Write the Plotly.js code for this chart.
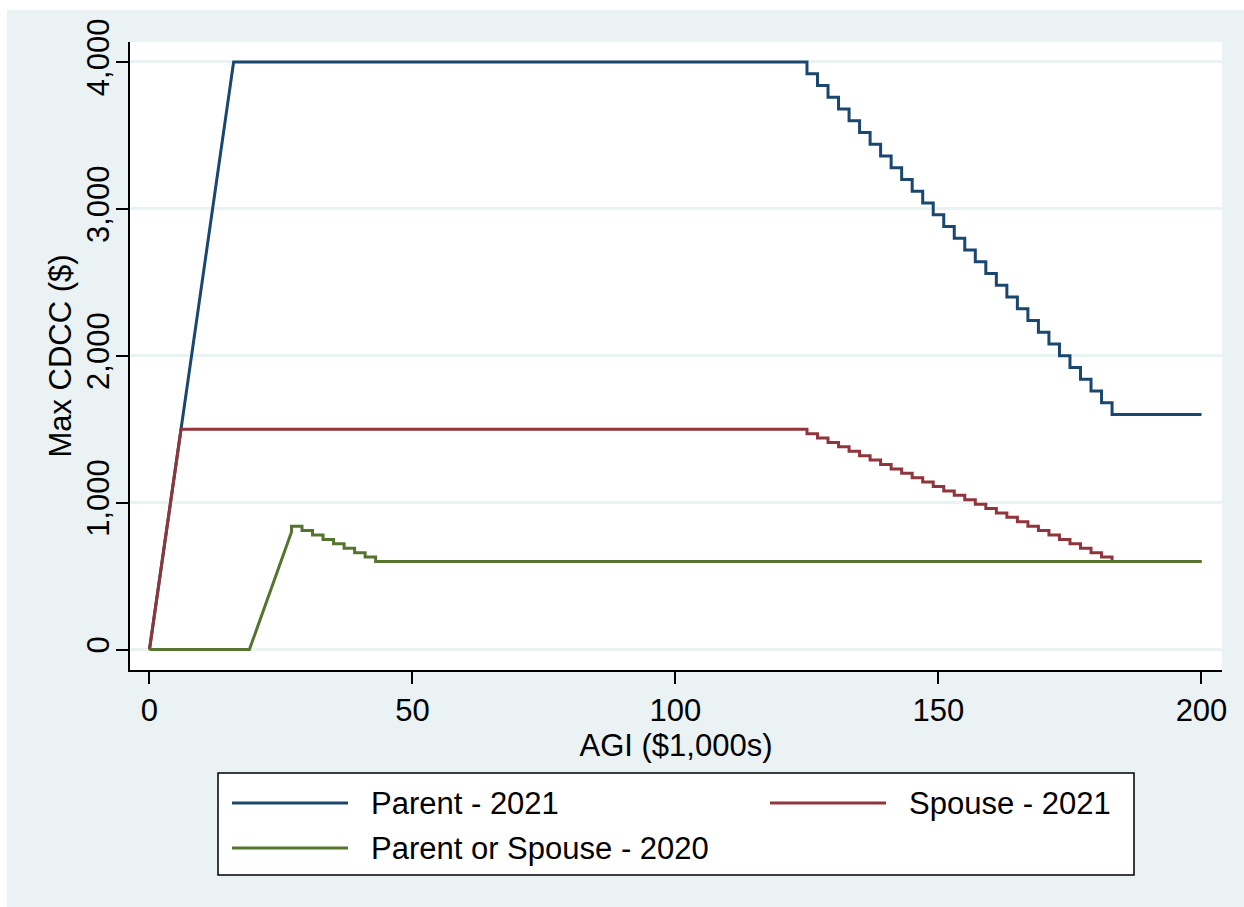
<!DOCTYPE html>
<html>
<head>
<meta charset="utf-8">
<script src="https://cdn.plot.ly/plotly-3.0.1.min.js"></script>
<style>
  html, body { margin: 0; padding: 0; background: #ffffff; }
  #chart { position: absolute; left: 7px; top: 10px; width: 1237px; height: 897px; }
</style>
</head>
<body>
<div id="chart"></div>
<script>
// ---- Data (AGI in $1,000s, credit in $) ----
const seriesNames = ["Parent - 2021", "Spouse - 2021", "Parent or Spouse - 2020"];

const parentAGI = [0, 16, 125, 125, 127, 127, 129, 129, 131, 131, 133, 133, 135, 135, 137, 137, 139, 139,
  141, 141, 143, 143, 145, 145, 147, 147, 149, 149, 151, 151, 153, 153, 155, 155, 157, 157, 159, 159,
  161, 161, 163, 163, 165, 165, 167, 167, 169, 169, 171, 171, 173, 173, 175, 175, 177, 177, 179, 179,
  181, 181, 183, 183, 200];
const parentCredit = [0, 4000, 4000, 3920, 3920, 3840, 3840, 3760, 3760, 3680, 3680, 3600, 3600, 3520,
  3520, 3440, 3440, 3360, 3360, 3280, 3280, 3200, 3200, 3120, 3120, 3040, 3040, 2960, 2960, 2880,
  2880, 2800, 2800, 2720, 2720, 2640, 2640, 2560, 2560, 2480, 2480, 2400, 2400, 2320, 2320, 2240,
  2240, 2160, 2160, 2080, 2080, 2000, 2000, 1920, 1920, 1840, 1840, 1760, 1760, 1680, 1680, 1600, 1600];

const spouseAGI = [0, 6, 125, 125, 127, 127, 129, 129, 131, 131, 133, 133, 135, 135, 137, 137, 139, 139,
  141, 141, 143, 143, 145, 145, 147, 147, 149, 149, 151, 151, 153, 153, 155, 155, 157, 157, 159, 159,
  161, 161, 163, 163, 165, 165, 167, 167, 169, 169, 171, 171, 173, 173, 175, 175, 177, 177, 179, 179,
  181, 181, 183, 183, 200];
const spouseCredit = [0, 1500, 1500, 1470, 1470, 1440, 1440, 1410, 1410, 1380, 1380, 1350, 1350, 1320,
  1320, 1290, 1290, 1260, 1260, 1230, 1230, 1200, 1200, 1170, 1170, 1140, 1140, 1110, 1110, 1080,
  1080, 1050, 1050, 1020, 1020, 990, 990, 960, 960, 930, 930, 900, 900, 870, 870, 840,
  840, 810, 810, 780, 780, 750, 750, 720, 720, 690, 690, 660, 660, 630, 630, 600, 600];

const pos2020AGI = [0, 19, 27, 27, 29, 29, 31, 31, 33, 33, 35, 35, 37, 37, 39, 39, 41, 41, 43, 43, 200];
const pos2020Credit = [0, 0, 800, 840, 840, 810, 810, 780, 780, 750, 750, 720, 720, 690, 690, 660, 660, 630, 630, 600, 600];

const xTickVals = [0, 50, 100, 150, 200];
const xTickText = ["0", "50", "100", "150", "200"];
const yTickVals = [0, 1000, 2000, 3000, 4000];
const yTickText = ["0", "1,000", "2,000", "3,000", "4,000"];

// ---- Styling ----
const colors = ["#1a476f", "#90353b", "#55752f"];
const FONT = "Liberation Sans, Arial, Helvetica, sans-serif";
const FS = 31;
const BG = "#eaf2f3";
const LW = 3;

const xs = [parentAGI, spouseAGI, pos2020AGI];
const ys = [parentCredit, spouseCredit, pos2020Credit];

const traces = xs.map((x, i) => ({
  type: "scatter",
  mode: "lines",
  x: x,
  y: ys[i],
  name: seriesNames[i],
  line: { color: colors[i], width: LW, shape: "linear" },
  hoverinfo: "x+y+name",
  showlegend: false
}));

// plot-area geometry in div pixels (for custom Stata-style legend)
const M = { l: 123, r: 22, t: 32, b: 237 };
const W = 1237, H = 897;
const pw = W - M.l - M.r, ph = H - M.t - M.b;
const px = v => (v - M.l) / pw;
const py = v => (H - M.b - v) / ph;

const shapes = [
  { type: "rect", xref: "paper", yref: "paper", x0: px(211), x1: px(1127), y0: py(865), y1: py(763),
    fillcolor: "#ffffff", line: { color: "#000000", width: 1.5 }, layer: "below" }
];
const annotations = [];
const legendPos = [
  { lx: 225, ty: 793 },
  { lx: 763, ty: 793 },
  { lx: 225, ty: 838 }
];
seriesNames.forEach((n, i) => {
  const p = legendPos[i];
  shapes.push({ type: "line", xref: "paper", yref: "paper", x0: px(p.lx), x1: px(p.lx + 116),
    y0: py(p.ty), y1: py(p.ty), line: { color: colors[i], width: LW } });
  annotations.push({ xref: "paper", yref: "paper", x: px(p.lx + 137), y: py(p.ty),
    xanchor: "left", yanchor: "middle", showarrow: false, text: n,
    font: { family: FONT, size: FS, color: "#000000" } });
});

const layout = {
  width: W, height: H,
  margin: M,
  paper_bgcolor: BG,
  plot_bgcolor: "#ffffff",
  font: { family: FONT, size: FS, color: "#000000" },
  showlegend: false,
  xaxis: {
    range: [-3.7, 203.9],
    tickvals: xTickVals, ticktext: xTickText,
    ticks: "outside", ticklen: 12, tickwidth: 1.5, tickcolor: "#000000",
    showline: true, linecolor: "#000000", linewidth: 1.5,
    showgrid: false, zeroline: false,
    tickfont: { family: FONT, size: FS, color: "#000000" },
    title: { text: "AGI ($1,000s)", font: { family: FONT, size: FS, color: "#000000" }, standoff: 0 }
  },
  yaxis: {
    range: [-139, 4136],
    tickvals: yTickVals, ticktext: yTickText,
    tickangle: -90,
    ticks: "outside", ticklen: 12, tickwidth: 1.5, tickcolor: "#000000",
    showline: true, linecolor: "#000000", linewidth: 1.5,
    showgrid: true, gridcolor: BG, gridwidth: 2.5,
    zeroline: false,
    ticklabelstandoff: -5,
    tickfont: { family: FONT, size: FS, color: "#000000" },
    title: { text: "Max CDCC ($)", font: { family: FONT, size: FS, color: "#000000" }, standoff: 0 }
  },
  shapes: shapes,
  annotations: annotations
};

Plotly.newPlot("chart", traces, layout, { displayModeBar: false, staticPlot: false });
</script>
</body>
</html>
